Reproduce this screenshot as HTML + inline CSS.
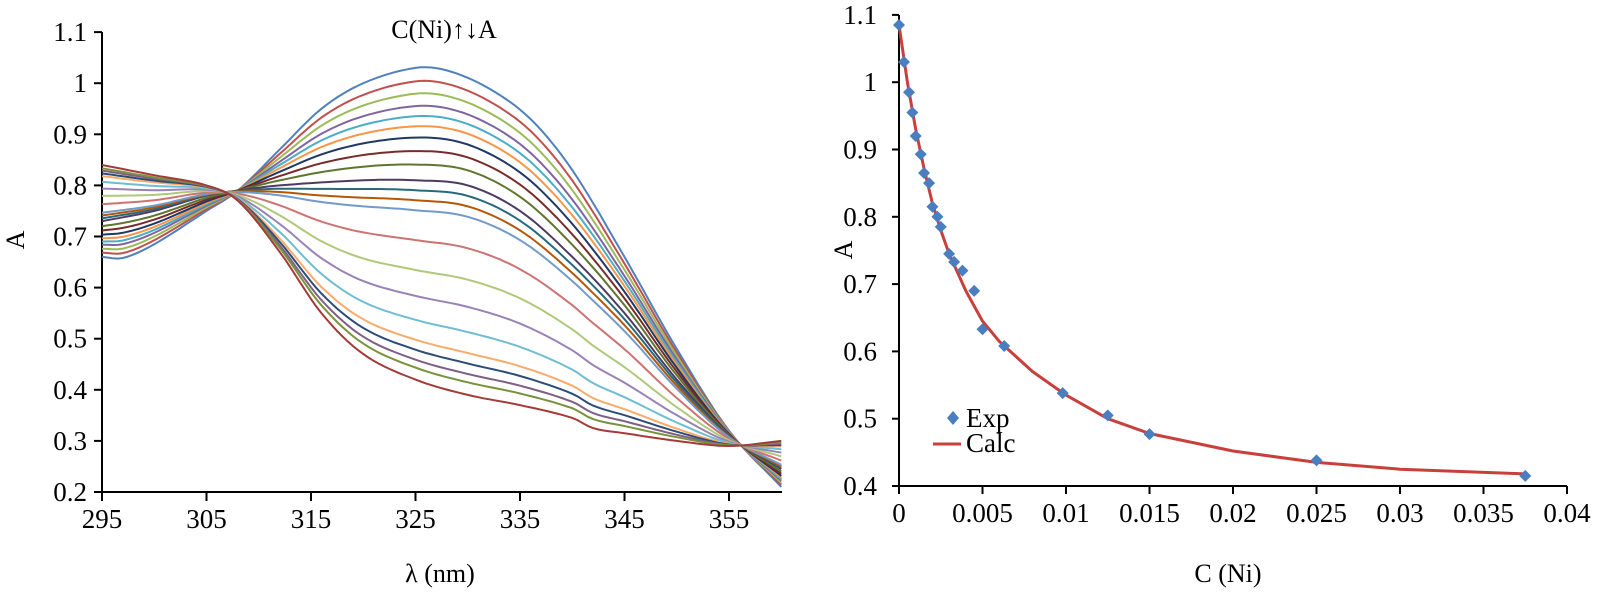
<!DOCTYPE html>
<html><head><meta charset="utf-8"><style>
html,body{margin:0;padding:0;background:#fff;}
svg{display:block;font-family:"Liberation Serif",serif;}
</style></head><body>
<svg id="s" width="1597" height="593" viewBox="0 0 1597 593" xmlns="http://www.w3.org/2000/svg">
<g id="left"></g><g id="right"></g>
<text x="444" y="38" font-size="26" text-anchor="middle">C(Ni)↑↓A</text>
<text x="440" y="582" font-size="26" text-anchor="middle">λ (nm)</text>
<text transform="translate(24,240) rotate(-90)" font-size="26" text-anchor="middle">A</text>
<text x="1228" y="582" font-size="26" text-anchor="middle">C (Ni)</text>
<text transform="translate(852,250) rotate(-90)" font-size="26" text-anchor="middle">A</text>
<path d="M953 411 L959 418 L953 425 L947 418 Z" fill="#4a7ebf"/>
<text x="966" y="427" font-size="27">Exp</text>
<line x1="933" y1="444" x2="961" y2="444" stroke="#c8403c" stroke-width="3"/>
<text x="966" y="452" font-size="27">Calc</text>
</svg>
<script>
(function(){
var NS="http://www.w3.org/2000/svg";
function el(p,t,a,txt){var e=document.createElementNS(NS,t);for(var k in a)e.setAttribute(k,a[k]);if(txt!==undefined)e.textContent=txt;p.appendChild(e);return e;}
var L=document.getElementById('left'),R=document.getElementById('right');
function lx(l){return 102+(l-295)*10.45;} function ly(a){return 492-(a-0.2)*511;}
el(L,'line',{x1:102,y1:32,x2:102,y2:492,stroke:'#000','stroke-width':2});
el(L,'line',{x1:102,y1:492,x2:782,y2:492,stroke:'#000','stroke-width':2});
for(var i=0;i<=9;i++){var v=0.2+i*0.1,y=ly(v);el(L,'line',{x1:94,y1:y,x2:102,y2:y,stroke:'#000','stroke-width':2});
el(L,'text',{x:87,y:y+9,'font-size':27,'text-anchor':'end'},(i==8?'1':i==9?'1.1':v.toFixed(1)));}
for(var i=0;i<=6;i++){var l=295+i*10,x=lx(l);el(L,'line',{x1:x,y1:492,x2:x,y2:501,stroke:'#000','stroke-width':2});
el(L,'text',{x:x,y:528,'font-size':27,'text-anchor':'middle'},l);}
var topC=[[295,.66],[297,.658],[300,.685],[305,.75],[308,.79],[312,.87],[316,.95],[320,1.0],[325,1.03],[328,1.025],[332,.99],[336,.93],[340,.83],[345,.66],[350,.48],[355,.32],[360,.21]];
var midC=[[295,.73],[300,.75],[305,.78],[308,.79],[312,.80],[320,.81],[325,.81],[330,.80],[335,.75],[340,.66],[345,.55],[350,.42],[355,.31],[360,.245]];
var botC=[[295,.84],[300,.82],[305,.80],[308,.77],[312,.67],[316,.55],[320,.47],[325,.42],[330,.39],[335,.37],[340,.345],[342,.325],[345,.315],[350,.30],[355,.29],[360,.30]];
function f(c,l){var n=c.length;for(var i=0;i<n-1;i++){if(l<=c[i+1][0]||i==n-2){
var p0=c[Math.max(i-1,0)],p1=c[i],p2=c[i+1],p3=c[Math.min(i+2,n-1)];
var h=p2[0]-p1[0],t=(l-p1[0])/h;
var m1=(p2[1]-p0[1])/(p2[0]-p0[0]||1)*h,m2=(p3[1]-p1[1])/(p3[0]-p1[0]||1)*h;
var t2=t*t,t3=t2*t;
return (2*t3-3*t2+1)*p1[1]+(t3-2*t2+t)*m1+(-2*t3+3*t2)*p2[1]+(t3-t2)*m2;}}return c[n-1][1];}
var cols=['#4f81bd','#c0504d','#9bbb59','#8064a2','#4bacc6','#f79646','#1f3864','#772c2a','#5f7530','#4d3b62','#276a7c','#b65708','#729aca','#cd7371','#afc97a','#9983b5','#6fbdd1','#f9ab6b','#2c4d75','#7f6084','#77933c','#31859c','#e46c0a','#3a5a9a','#a33b38'];
var ts2=[0,.12,.23,.34,.43,.52,.62,.74,.86,1.0,1.05,1.1,1.15,1.3,1.45,1.58,1.7,1.8,1.85,1.9,1.94,2.0];
for(var k=0;k<ts2.length;k++){var t=ts2[k];var d='';
for(var l=295;l<=360.01;l+=0.5){var a;if(t<=1)a=f(topC,l)*(1-t)+f(midC,l)*t;else a=f(midC,l)*(2-t)+f(botC,l)*(t-1);
d+=(l==295?'M':'L')+lx(l).toFixed(1)+' '+ly(a).toFixed(1);}
var c=k==ts2.length-1?'#a33b38':cols[k%cols.length];
el(L,'path',{d:d,fill:'none',stroke:c,'stroke-width':2});}
function rx(c){return 899+c*16700;} function ry(a){return 486-(a-0.4)*673;}
el(R,'line',{x1:899,y1:15,x2:899,y2:486,stroke:'#000','stroke-width':2});
el(R,'line',{x1:899,y1:486,x2:1567,y2:486,stroke:'#000','stroke-width':2});
for(var i=0;i<=7;i++){var v=0.4+i*0.1,y=ry(v);el(R,'line',{x1:892,y1:y,x2:899,y2:y,stroke:'#000','stroke-width':2});
el(R,'text',{x:877,y:y+9,'font-size':27,'text-anchor':'end'},(i==6?'1':i==7?'1.1':v.toFixed(1)));}
var xl=['0','0.005','0.01','0.015','0.02','0.025','0.03','0.035','0.04'];
for(var i=0;i<=8;i++){var x=rx(i*0.005);el(R,'line',{x1:x,y1:486,x2:x,y2:494,stroke:'#000','stroke-width':2});
el(R,'text',{x:x,y:522,'font-size':27,'text-anchor':'middle'},xl[i]);}
var calc=[[0,1.085],[.0005,1.0],[.001,.93],[.0015,.872],[.002,.82],[.0025,.78],[.003,.745],[.004,.69],[.005,.645],[.006,.615],[.008,.57],[.01,.535],[.0125,.5],[.015,.478],[.02,.452],[.025,.435],[.03,.425],[.0375,.418]];
var d='';calc.forEach(function(p,i){d+=(i?'L':'M')+rx(p[0]).toFixed(1)+' '+ry(p[1]).toFixed(1);});
el(R,'path',{d:d,fill:'none',stroke:'#c8403c','stroke-width':3,'stroke-linejoin':'round'});
var exp=[[0,1.085],[.0003,1.03],[.0006,.985],[.0008,.955],[.001,.92],[.0013,.893],[.0015,.865],[.0018,.85],[.002,.815],[.0023,.8],[.0025,.785],[.003,.745],[.0033,.733],[.0038,.72],[.0045,.69],[.005,.633],[.0063,.608],[.0098,.538],[.0125,.505],[.015,.477],[.025,.438],[.0375,.415]];
exp.forEach(function(p){var x=rx(p[0]),y=ry(p[1]);el(R,'path',{d:'M'+x+' '+(y-6)+'L'+(x+6)+' '+y+'L'+x+' '+(y+6)+'L'+(x-6)+' '+y+'Z',fill:'#4a7ebf'});});
})();
</script>
</body></html>
